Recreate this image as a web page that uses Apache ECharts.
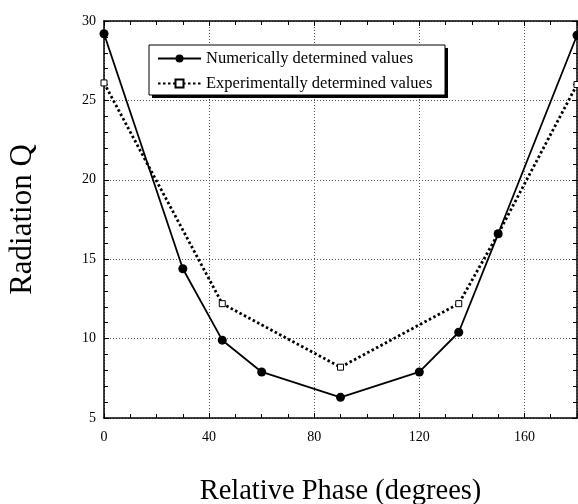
<!DOCTYPE html>
<html>
<head>
<meta charset="utf-8">
<script src="https://cdn.jsdelivr.net/npm/echarts@6/dist/echarts.min.js"></script>
<style>
  html, body { margin: 0; padding: 0; background: #fff; }
  #chart { width: 578px; height: 504px; }
</style>
</head>
<body>
<div id="chart"></div>
<script>
// relative phase (degrees) and radiation Q
var numPhase = [0, 30, 45, 60, 90, 120, 135, 150, 180];
var numQ = [29.2, 14.4, 9.9, 7.9, 6.3, 7.9, 10.4, 16.6, 29.1];
var expPhase = [0, 45, 90, 135, 150, 180];
var expQ = [26.1, 12.2, 8.2, 12.2, 16.6, 26.0];

function pairs(xs, ys) {
    return xs.map(function (x, i) { return [x, ys[i]]; });
}

var serif = "'Liberation Serif', 'DejaVu Serif', serif";
var chart = echarts.init(document.getElementById("chart"));

var xBase = {
    type: "value", min: 0, max: 180, interval: 40,
    axisLine: { show: true, onZero: false, lineStyle: { color: "#000", width: 1.5 } },
    axisTick: { show: true, inside: true, length: 5, lineStyle: { color: "#000" } },
    minorTick: { show: true, splitNumber: 4, length: 4, lineStyle: { color: "#000" } }
};
var yBase = {
    type: "value", min: 5, max: 30, interval: 5,
    axisLine: { show: true, onZero: false, lineStyle: { color: "#000", width: 1.5 } },
    axisTick: { show: true, inside: true, length: 5, lineStyle: { color: "#000" } },
    minorTick: { show: true, splitNumber: 5, length: 4, lineStyle: { color: "#000" } }
};

var option = {
    backgroundColor: "#fff",
    animation: false,
    grid: { left: 104, right: 1, top: 21, bottom: 86, containLabel: false, outerBoundsMode: "none" },
    // legend frame with its hard drop shadow
    graphic: [
        { type: "rect", z: 50, shape: { x: 152, y: 48, width: 296, height: 50 },
          style: { fill: "#000" } },
        { type: "rect", z: 51, shape: { x: 149, y: 45, width: 296, height: 50 },
          style: { fill: "#fff", stroke: "#000", lineWidth: 1 } }
    ],
    legend: {
        orient: "vertical",
        left: 157, top: 50,
        padding: 0,
        itemGap: 8,
        itemWidth: 43, itemHeight: 10,
        z: 60,
        textStyle: { fontFamily: serif, fontSize: 16.5, color: "#000" },
        data: ["Numerically determined values", "Experimentally determined values"]
    },
    xAxis: [
        Object.assign({}, xBase, {
            position: "bottom",
            name: "Relative Phase (degrees)",
            nameLocation: "middle", nameGap: 59,
            nameTextStyle: { fontFamily: serif, fontSize: 28.5, color: "#000" },
            axisLabel: { show: true, showMaxLabel: false, margin: 12,
                fontFamily: serif, fontSize: 14, color: "#000" },
            splitLine: { show: true, lineStyle: { color: "#555", type: [1, 2], width: 1 } }
        }),
        Object.assign({}, xBase, {
            position: "top",
            axisLabel: { show: false },
            splitLine: { show: false }
        })
    ],
    yAxis: [
        Object.assign({}, yBase, {
            position: "left",
            name: "Radiation Q",
            nameLocation: "middle", nameGap: 66,
            nameTextStyle: { fontFamily: serif, fontSize: 31, color: "#000" },
            axisLabel: { show: true, margin: 8,
                fontFamily: serif, fontSize: 14, color: "#000" },
            splitLine: { show: true, lineStyle: { color: "#555", type: [1, 2], width: 1 } }
        }),
        Object.assign({}, yBase, {
            position: "right",
            axisLabel: { show: false },
            splitLine: { show: false }
        })
    ],
    series: [
        {
            name: "Numerically determined values",
            type: "line",
            data: pairs(numPhase, numQ),
            symbol: "circle", symbolSize: 9,
            itemStyle: { color: "#000" },
            lineStyle: { color: "#000", width: 1.8 },
            z: 4
        },
        {
            name: "Experimentally determined values",
            type: "line",
            data: pairs(expPhase, expQ),
            symbol: "rect", symbolSize: 6,
            itemStyle: { color: "#fff", borderColor: "#000", borderWidth: 1 },
            lineStyle: { color: "#000", width: 2.8, type: [2.5, 2.5] },
            z: 2
        }
    ]
};

chart.setOption(option);
</script>
</body>
</html>
